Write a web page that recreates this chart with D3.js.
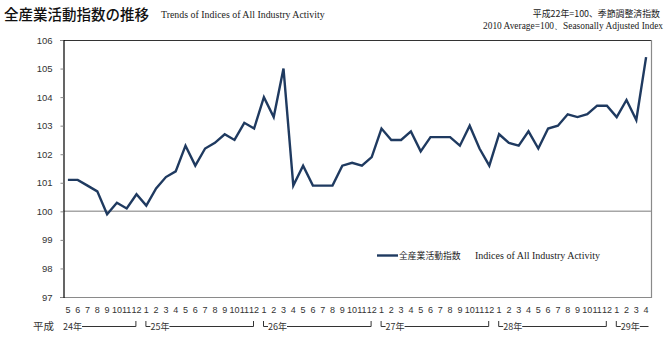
<!DOCTYPE html>
<html><head><meta charset="utf-8">
<script src="https://cdn.jsdelivr.net/npm/d3@7"></script>
<style>body{margin:0;background:#fff} svg{display:block}</style>
</head><body>
<script>
// ---- data ----
const monthLabels = [5,6,7,8,9,10,11,12,
  1,2,3,4,5,6,7,8,9,10,11,12,
  1,2,3,4,5,6,7,8,9,10,11,12,
  1,2,3,4,5,6,7,8,9,10,11,12,
  1,2,3,4,5,6,7,8,9,10,11,12,
  1,2,3,4];
const values = [101.1,101.1,100.9,100.7,99.9,100.3,100.1,100.6,
  100.2,100.8,101.2,101.4,102.3,101.6,102.2,102.4,102.7,102.5,103.1,102.9,
  104.0,103.3,105.0,100.9,101.6,100.9,100.9,100.9,101.6,101.7,101.6,101.9,
  102.9,102.5,102.5,102.8,102.1,102.6,102.6,102.6,102.3,103.0,102.2,101.6,
  102.7,102.4,102.3,102.8,102.2,102.9,103.0,103.4,103.3,103.4,103.7,103.7,
  103.3,103.9,103.2,105.4];
const yearLabels = ["24年","25年","26年","27年","28年","29年"];
const yTicks = [97,98,99,100,101,102,103,104,105,106];
const baseValue = 100;
const eraLabel = "平成";
const titleJa = "全産業活動指数の推移";
const titleEn = "Trends of Indices of All Industry Activity";
const noteJa = "平成22年=100、季節調整済指数";
const noteEn = "2010 Average=100、Seasonally Adjusted Index";
const legendJa = "全産業活動指数";
const legendEn = "Indices of All Industry Activity";

// ---- chart ----
const W = 670, H = 342;
const L = 63, R = 651, T = 40, B = 297;
const sans = "'Liberation Sans', Arial, sans-serif";
const cjk = "'Noto Sans CJK JP', sans-serif";
const serif = "'Liberation Serif', 'Times New Roman', serif";
const lineColor = "#1f3a60";

const svg = d3.select("body").append("svg").attr("width", W).attr("height", H);

const idx = d3.range(values.length);
const x = d3.scaleBand().domain(idx).range([L, R]).padding(0);
const y = d3.scaleLinear().domain([97, 106]).range([B, T]);
const cx = i => x(i) + x.bandwidth() / 2;

// frame
svg.append("line").attr("x1", L).attr("x2", R).attr("y1", T + 0.5).attr("y2", T + 0.5)
  .attr("stroke", "#333").attr("stroke-width", 1);
svg.append("line").attr("x1", R + 0.5).attr("x2", R + 0.5).attr("y1", T).attr("y2", B + 1)
  .attr("stroke", "#8a8a8a").attr("stroke-width", 1.2);
svg.append("line").attr("x1", L).attr("x2", R).attr("y1", B + 0.5).attr("y2", B + 0.5)
  .attr("stroke", "#8a8a8a").attr("stroke-width", 1.2);

// base line at 100
svg.append("line").attr("x1", L).attr("x2", R).attr("y1", y(baseValue)).attr("y2", y(baseValue))
  .attr("stroke", "#a6a6a6").attr("stroke-width", 1.5);

// y axis
const yAxis = svg.append("g").attr("transform", `translate(${L + 0.5},0)`)
  .call(d3.axisLeft(y).tickValues(yTicks).tickSize(3).tickPadding(8).tickFormat(d3.format("d")));
yAxis.select(".domain").attr("stroke", "#000").attr("stroke-width", 1.2);
yAxis.selectAll(".tick line").attr("stroke", "#888");
yAxis.selectAll("text").attr("font-family", sans).attr("font-size", 9.5).attr("fill", "#333");

// x axis (month labels)
const xAxis = svg.append("g").attr("transform", `translate(0,${B})`)
  .call(d3.axisBottom(x).tickSize(0).tickPadding(10).tickFormat(i => monthLabels[i]));
xAxis.select(".domain").remove();
xAxis.selectAll("text").attr("font-family", sans).attr("font-size", 9).attr("fill", "#333");

// year brackets
const groups = [];
monthLabels.forEach((m, i) => {
  if (i === 0 || m === 1) groups.push({start: i, end: i});
  else groups[groups.length - 1].end = i;
});
const by = 326;
svg.append("text").attr("x", 33).attr("y", by + 4).text(eraLabel)
  .attr("font-family", cjk).attr("font-size", 10.5).attr("fill", "#333");
const bg = svg.append("g").attr("stroke", "#333").attr("stroke-width", 1).attr("fill", "none");
groups.forEach((g, k) => {
  const x0 = x(g.start), x1 = x(g.end) + x.bandwidth();
  const first = k === 0, last = k === groups.length - 1;
  let sx = first ? x0 : x0 + 4;
  if (!first) {
    bg.append("path").attr("d", `M${sx + 0.5},${by - 5}V${by + 0.5}H${sx + 5}`);
    sx += 5;
  }
  const t = svg.append("text").attr("x", sx).attr("y", by + 4).text(yearLabels[k])
    .attr("font-family", cjk).attr("font-size", 9).attr("fill", "#333");
  const tw = t.node().getComputedTextLength();
  const ex = last ? x1 - 3 : x1 - 6;
  bg.append("path").attr("d", `M${sx + tw},${by + 0.5}H${ex + 0.5}` + (last ? "" : `V${by - 5}`));
});

// series line
svg.append("path").datum(values)
  .attr("fill", "none").attr("stroke", lineColor).attr("stroke-width", 2.4)
  .attr("stroke-linejoin", "miter")
  .attr("d", d3.line().x((d, i) => cx(i)).y(d => y(d)));

// legend
const ly = 255.5;
svg.append("line").attr("x1", 377).attr("x2", 398).attr("y1", ly).attr("y2", ly)
  .attr("stroke", lineColor).attr("stroke-width", 2.4);
svg.append("text").attr("x", 399).attr("y", ly + 3.5).text(legendJa)
  .attr("font-family", cjk).attr("font-size", 8.8).attr("fill", "#222");
svg.append("text").attr("x", 475).attr("y", ly + 3.5).text(legendEn)
  .attr("font-family", serif).attr("font-size", 10).attr("fill", "#222");

// titles
svg.append("text").attr("x", 4).attr("y", 20).text(titleJa)
  .attr("font-family", cjk).attr("font-size", 14.5).attr("font-weight", 500).attr("fill", "#111");
svg.append("text").attr("x", 161).attr("y", 18).text(titleEn)
  .attr("font-family", serif).attr("font-size", 9.9).attr("fill", "#222");
svg.append("text").attr("x", 660).attr("y", 17).attr("text-anchor", "end").text(noteJa)
  .attr("font-family", cjk).attr("font-size", 8.9).attr("fill", "#222");
svg.append("text").attr("x", 663).attr("y", 29).attr("text-anchor", "end").text(noteEn)
  .attr("font-family", serif).attr("font-size", 9.4).attr("fill", "#222");
</script>
</body></html>
